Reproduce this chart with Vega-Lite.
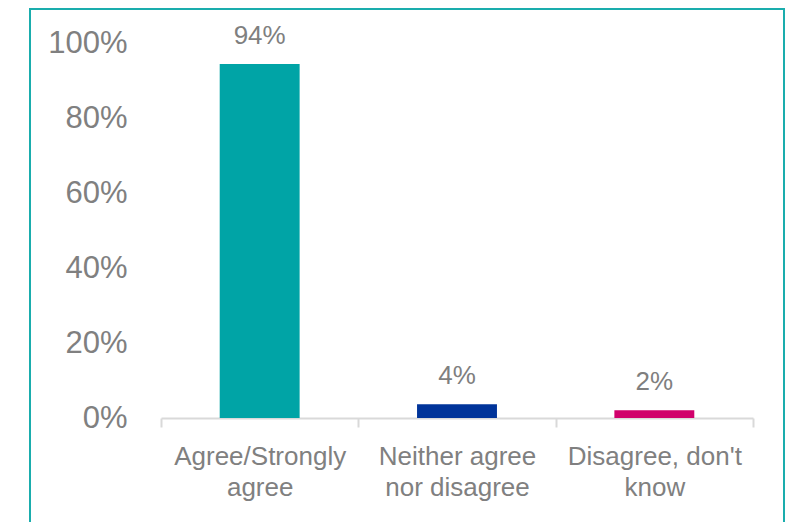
{
  "$schema": "https://vega.github.io/schema/vega-lite/v6.json",
  "autosize": {"type": "none"},
  "width": 754,
  "height": 515,
  "padding": {"left": 30, "top": 9, "right": 1, "bottom": -2},
  "background": "white",
  "config": {
    "view": {"stroke": "#1AADAD", "strokeWidth": 2},
    "font": "Liberation Sans"
  },
  "data": {
    "values": [
      {"cat": "Agree/Strongly\nagree", "value": 0.945, "label": "94%", "color": "#00A4A6"},
      {"cat": "Neither agree\nnor disagree", "value": 0.037, "label": "4%", "color": "#00349A"},
      {"cat": "Disagree, don't\nknow", "value": 0.021, "label": "2%", "color": "#D1006B"}
    ]
  },
  "encoding": {
    "x": {
      "field": "cat", "type": "nominal", "sort": null,
      "scale": {"range": [131, 723], "paddingInner": 0, "paddingOuter": 0},
      "axis": {
        "title": null, "orient": "bottom", "offset": -106,
        "domainColor": "#D9D9D9", "domainWidth": 2,
        "tickColor": "#D9D9D9", "tickWidth": 2, "tickSize": 9, "tickBand": "extent",
        "labelAngle": 0, "labelFontSize": 26, "labelColor": "#808080",
        "labelPadding": 16, "labelLineHeight": 31, "labelLimit": 0,
        "labelExpr": "split(datum.label, '\\n')"
      }
    },
    "y": {
      "field": "value", "type": "quantitative",
      "scale": {"domain": [0, 1], "range": [409, 34.5], "nice": false},
      "axis": {
        "title": null, "values": [0, 0.2, 0.4, 0.6, 0.8, 1], "format": ".0%",
        "grid": false, "ticks": false, "domain": false, "offset": -97,
        "labelPadding": 0, "labelFontSize": 31, "labelColor": "#808080"
      }
    }
  },
  "layer": [
    {
      "mark": {"type": "bar", "width": {"band": 0.405}},
      "encoding": {"color": {"field": "color", "type": "nominal", "scale": null, "legend": null}}
    },
    {
      "mark": {"type": "text", "baseline": "alphabetic", "dy": -20, "fontSize": 26, "color": "#7F7F7F"},
      "encoding": {"text": {"field": "label"}}
    }
  ]
}
